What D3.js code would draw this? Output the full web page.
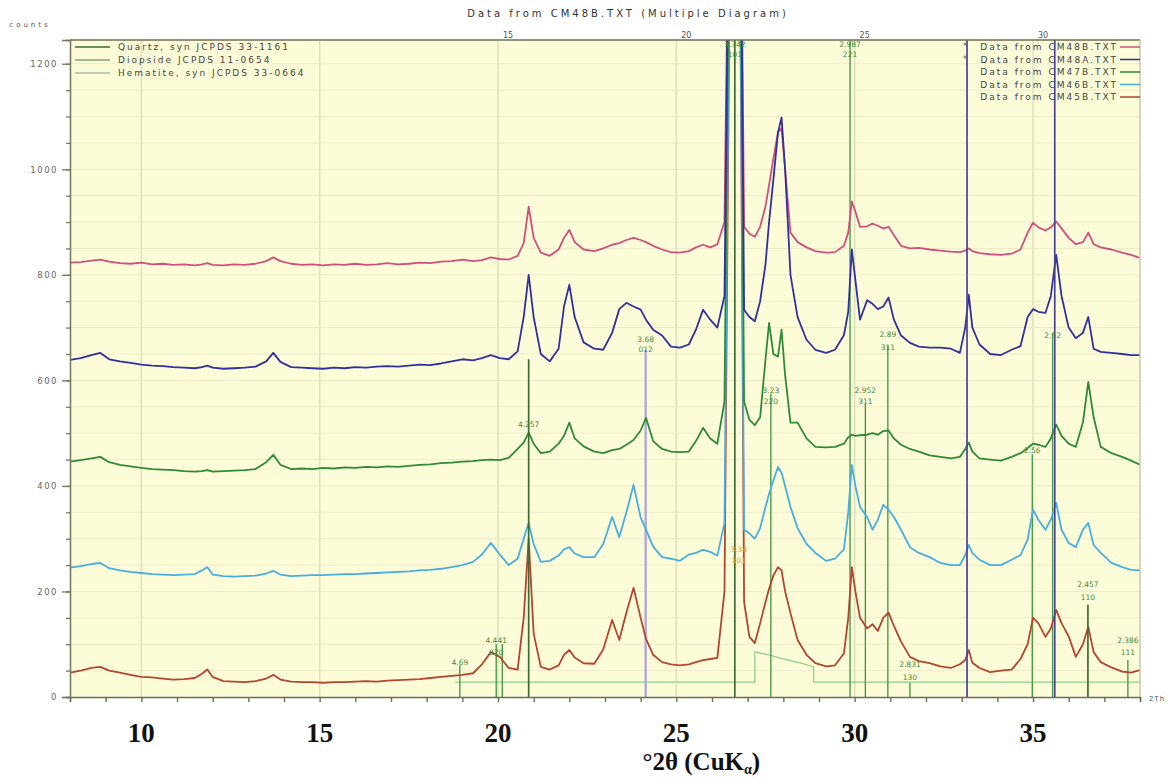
<!DOCTYPE html>
<html>
<head>
<meta charset="utf-8">
<script src="https://cdn.jsdelivr.net/npm/d3@7"></script>
<style>
  body { margin: 0; background: #fff; }
  svg { display: block; }
</style>
</head>
<body>
<svg id="chart" width="1169" height="782"></svg>
<script>
// ---- data (°2θ, counts) ----
const twoTheta = [
  8.0, 8.3, 8.6, 8.85, 9.1, 9.4, 9.7, 10.0, 10.3, 10.6,
  10.9, 11.2, 11.5, 11.7, 11.85, 12.0, 12.3, 12.6, 12.9, 13.2,
  13.5, 13.7, 13.9, 14.2, 14.5, 14.8, 15.1, 15.4, 15.7, 16.0,
  16.3, 16.6, 16.9, 17.2, 17.5, 17.8, 18.1, 18.4, 18.7, 19.0,
  19.3, 19.55, 19.8, 20.05, 20.3, 20.55, 20.72, 20.86, 21.0, 21.2,
  21.45, 21.7, 21.85, 22.0, 22.15, 22.4, 22.7, 22.95, 23.2, 23.4,
  23.6, 23.8, 24.0, 24.15, 24.35, 24.6, 24.85, 25.1, 25.35, 25.55,
  25.75, 25.95, 26.15, 26.35, 26.5, 26.6, 26.68, 26.76, 26.9, 27.05,
  27.2, 27.35, 27.5, 27.6, 27.72, 27.85, 27.95, 28.05, 28.2, 28.4,
  28.65, 28.9, 29.2, 29.45, 29.7, 29.82, 29.92, 30.02, 30.15, 30.35,
  30.5, 30.65, 30.8, 30.95, 31.1, 31.3, 31.55, 31.8, 32.1, 32.4,
  32.7, 32.95, 33.1, 33.2, 33.3, 33.5, 33.8, 34.1, 34.4, 34.65,
  34.85, 35.0, 35.15, 35.35, 35.5, 35.65, 35.8, 36.0, 36.2, 36.4,
  36.55, 36.7, 36.9, 37.2, 37.5, 37.75, 38.0
];

const cm48b = [
  823, 824, 827, 829, 825, 822, 821, 823, 820, 821,
  819, 820, 818, 820, 822, 819, 818, 820, 819, 821,
  826, 833, 826, 821, 819, 820, 818, 820, 819, 821,
  819, 820, 822, 820, 821, 823, 822, 825, 826, 829,
  826, 828, 833, 830, 829, 836, 860, 929, 870, 842,
  836, 848, 870, 885, 862, 848, 845, 850, 857, 860,
  866, 870, 866, 862, 855, 848, 843, 842, 845, 852,
  857, 852, 858, 900, 1700, 2400, 3000, 1900, 891, 878,
  872, 891, 930, 970, 1020, 1070, 1078, 1000, 880, 862,
  852, 845, 842, 843, 855, 880, 939, 920, 891, 892,
  897, 893, 888, 891, 875, 855, 850, 851, 848, 846,
  844, 843, 846, 850, 845, 841, 839, 838, 840, 848,
  880, 899, 890, 884, 890, 901, 888, 870, 858, 862,
  880, 858, 852, 848, 842, 838, 832
];

const cm48a = [
  639, 642, 648, 652, 640, 636, 633, 630, 628, 627,
  625, 624, 623, 625, 628, 624, 622, 623, 624, 626,
  636, 652, 635, 625, 624, 623, 622, 624, 623, 625,
  624, 626, 627, 626, 628, 630, 629, 632, 636, 640,
  638, 642, 648, 642, 640, 655, 720, 800, 720, 650,
  636, 660, 740, 781, 720, 672, 660, 658, 690, 735,
  747, 740, 734, 715, 696, 685, 664, 662, 668, 696,
  734, 715, 700, 760, 1700, 2500, 3000, 1900, 734, 720,
  712, 750, 820, 900, 980, 1070, 1098, 1000, 800, 720,
  677, 658, 652, 658, 686, 730, 848, 790, 715, 752,
  745, 735, 740, 757, 715, 685, 671, 664, 662, 662,
  660, 652, 700, 762, 700, 668, 650, 648, 658, 665,
  720, 735, 730, 728, 760, 838, 760, 700, 680, 690,
  720, 660, 654, 652, 650, 648, 648
];

const cm47b = [
  446, 449, 452, 455, 445, 440, 437, 434, 432, 431,
  430, 428, 427, 428, 430, 427, 428, 429, 430, 432,
  445, 459, 440, 432, 433, 432, 434, 433, 435, 434,
  436, 435, 437, 436, 438, 440, 441, 443, 444, 446,
  447, 449, 450, 449, 453, 470, 482, 501, 480, 462,
  465, 480, 495, 520, 490, 475, 465, 462, 468, 470,
  478, 487, 505, 529, 485, 470, 465, 464, 465, 485,
  510, 490, 480, 560, 1600, 2400, 3000, 1800, 560, 525,
  515, 530, 640, 709, 650, 645, 696, 610, 520, 520,
  490, 474, 473, 474, 480, 492, 497, 495, 496, 497,
  500, 497, 504, 505, 490, 478, 470, 465, 458, 455,
  452, 455, 470, 482, 465, 452, 450, 448, 455, 462,
  472, 480, 478, 474, 490, 516, 495, 480, 474, 520,
  597, 530, 474, 462, 455, 448, 440
];

const cm46b = [
  245, 248, 252, 254, 244, 240, 237, 235, 233, 232,
  231, 232, 233, 240, 246, 232, 229, 228, 229, 230,
  234, 239, 232, 229, 230, 231, 231, 232, 233, 233,
  234, 235, 236, 237, 238, 240, 241, 243, 246, 250,
  256, 270, 292, 270, 250, 262, 300, 330, 290, 256,
  258, 268, 280, 284, 272, 265, 265, 290, 341, 303,
  350, 402, 340, 317, 285, 265, 262, 258, 270, 273,
  279, 275, 268, 330, 1500, 2300, 3000, 1700, 317, 310,
  300, 320, 360, 385, 410, 436, 425, 400, 360, 320,
  290, 273, 258, 262, 280, 350, 440, 400, 360, 341,
  317, 336, 364, 355, 341, 317, 284, 273, 265, 254,
  250, 250, 269, 288, 273, 260, 250, 250, 260, 269,
  298, 355, 336, 317, 336, 368, 317, 292, 284, 317,
  330, 288, 273, 254, 246, 241, 240
];

const cm45b = [
  46, 50, 55, 57, 50, 46, 42, 38, 37, 35,
  33, 34, 36, 44, 52, 38, 30, 29, 28, 30,
  35, 42, 33, 29, 28, 28, 27, 28, 28, 29,
  30, 29, 31, 32, 33, 34, 36, 38, 40, 42,
  45, 62, 85, 76, 55, 52, 150, 300, 120, 57,
  52, 60, 80, 89, 75, 64, 63, 90, 146, 108,
  160, 207, 150, 110, 80, 66, 62, 60, 62, 66,
  70, 72, 74, 200, 1400, 2300, 3000, 1700, 180, 114,
  102, 140, 180, 205, 230, 246, 240, 200, 159, 108,
  80, 64, 58, 60, 83, 150, 246, 200, 150, 130,
  138, 125, 150, 160, 135, 105, 76, 68, 64, 58,
  55, 62, 70, 89, 65, 55, 47, 50, 52, 72,
  100, 150, 140, 114, 130, 165, 140, 115, 76, 100,
  133, 85, 66, 56, 48, 46, 51
];

const seriesNames = ["Data from CM48B.TXT", "Data from CM48A.TXT", "Data from CM47B.TXT",
                     "Data from CM46B.TXT", "Data from CM45B.TXT"];
const seriesColors = ["#d0507c", "#30309e", "#2f8a38", "#48aee0", "#b4462f"];

// reference patterns: [°2θ, stick height in counts]
const quartzSticks = [[20.86, 640], [26.64, 1300], [36.54, 175]];
const diopsideSticks = [[18.93, 60], [19.95, 100], [20.12, 100], [27.65, 575], [29.87, 1300],
                        [30.3, 555], [30.93, 665], [31.55, 27], [34.98, 460], [35.55, 690], [37.66, 70]];
const hematiteSticks = [[24.14, 658], [33.15, 1300], [35.61, 1300]];
const phaseNames = ["Quartz, syn  JCPDS 33-1161", "Diopside  JCPDS 11-0654", "Hematite, syn  JCPDS 33-0664"];

// light green profile line near the baseline
const profileX = [18.8, 27.2, 27.2, 27.6, 28.0, 28.5, 28.85, 28.85, 38.0];
const profileY = [28, 28, 85, 80, 72, 64, 57, 28, 28];

// d-spacing / hkl labels: [°2θ, counts, text]
const stickLabels = [
  [26.64, 1232, "3.342"], [26.64, 1213, "101"],
  [29.87, 1232, "2.987"], [29.87, 1213, "221"],
  [20.86, 512, "4.257"],
  [24.14, 673, "3.68"], [24.14, 654, "012"],
  [27.65, 576, "3.23"], [27.65, 555, "220"],
  [30.3, 576, "2.952"], [30.3, 555, "311"],
  [30.93, 683, "2.89"], [30.93, 658, "311"],
  [35.55, 681, "2.52"], [34.98, 462, "2.56"],
  [36.54, 209, "2.457"], [36.54, 184, "110"],
  [37.66, 102, "2.386"], [37.66, 80, "111"],
  [31.55, 57, "2.831"], [31.55, 32, "130"],
  [19.95, 102, "4.441"], [19.95, 80, "020"],
  [18.93, 61, "4.69"]
];

const yMajor = [0, 200, 400, 600, 800, 1000, 1200];
const xLabels = [10, 15, 20, 25, 30, 35];
const topLabels = ["15", "20", "25", "30"];

// ---- layout ----
const W = 1169, H = 782;
const pLeft = 70, pRight = 1140, pTop = 40, pBottom = 697;

const svg = d3.select("#chart");
const x = d3.scaleLinear().domain([8, 38]).range([pLeft, pRight]);
const y = d3.scaleLinear().domain([0, 1245]).range([pBottom, pTop]);

svg.append("rect").attr("width", W).attr("height", H).attr("fill", "#fff");
svg.append("rect")
  .attr("x", pLeft).attr("y", pTop)
  .attr("width", pRight - pLeft).attr("height", pBottom - pTop)
  .attr("fill", "#fdfcd9");

svg.append("defs").append("clipPath").attr("id", "plotclip")
  .append("rect").attr("x", pLeft).attr("y", pTop)
  .attr("width", pRight - pLeft).attr("height", pBottom - pTop);

// grid
const grid = svg.append("g");
grid.selectAll("line.h").data(d3.range(50, 1245, 50)).join("line")
  .attr("x1", pLeft).attr("x2", pRight)
  .attr("y1", d => y(d)).attr("y2", d => y(d))
  .attr("stroke", "#eeebc9").attr("stroke-width", 1);
grid.selectAll("line.v").data(xLabels).join("line")
  .attr("x1", d => x(d)).attr("x2", d => x(d))
  .attr("y1", pTop).attr("y2", pBottom)
  .attr("stroke", "#e0e2bd").attr("stroke-width", 1.6);

const plot = svg.append("g").attr("clip-path", "url(#plotclip)");

// profile line
plot.append("path")
  .datum(profileX.map((v, i) => [v, profileY[i]]))
  .attr("d", d3.line().x(d => x(d[0])).y(d => y(d[1])))
  .attr("fill", "none").attr("stroke", "#8fd08a").attr("stroke-width", 1.3);

// sticks
function drawSticks(data, color, width) {
  plot.append("g").selectAll("line").data(data).join("line")
    .attr("x1", d => x(d[0])).attr("x2", d => x(d[0]))
    .attr("y1", y(0)).attr("y2", d => y(d[1]))
    .attr("stroke", color).attr("stroke-width", width);
}
drawSticks(hematiteSticks.slice(0, 1), "#b3a6dc", 2.4);
drawSticks(diopsideSticks, "#4a9a48", 1.4);

// patterns
const allSeries = [cm45b, cm46b, cm47b, cm48b, cm48a];
const allColors = [seriesColors[4], seriesColors[3], seriesColors[2], seriesColors[0], seriesColors[1]];
const line = d3.line().x(d => x(d[0])).y(d => y(d[1]));
allSeries.forEach((s, k) => {
  if (s.length !== twoTheta.length) console.warn("length mismatch", k, s.length);
  plot.append("path")
    .datum(twoTheta.map((t, i) => [t, s[i]]))
    .attr("d", line)
    .attr("fill", "none")
    .attr("stroke", allColors[k])
    .attr("stroke-width", 1.8)
    .attr("stroke-linejoin", "round");
});

drawSticks(quartzSticks, "#3d6b35", 1.7);
drawSticks(hematiteSticks.slice(1), "#4d3f9c", 1.7);

// stick labels
plot.append("g").selectAll("text").data(stickLabels).join("text")
  .attr("x", d => x(d[0])).attr("y", d => y(d[1]))
  .attr("text-anchor", "middle")
  .attr("font-family", "DejaVu Sans, sans-serif")
  .attr("font-size", 7.5)
  .attr("fill", "#3f8a3c")
  .text(d => d[2]);
plot.append("text").attr("x", x(26.75)).attr("y", y(275)).attr("text-anchor", "middle")
  .attr("font-family", "DejaVu Sans, sans-serif").attr("font-size", 7.5).attr("fill", "#e0a040").text("3.34");
plot.append("text").attr("x", x(26.75)).attr("y", y(254)).attr("text-anchor", "middle")
  .attr("font-family", "DejaVu Sans, sans-serif").attr("font-size", 7.5).attr("fill", "#e0a040").text("101");

// frame
svg.append("line").attr("x1", pLeft).attr("x2", pRight).attr("y1", pTop).attr("y2", pTop)
  .attr("stroke", "#6e6e50").attr("stroke-width", 1.6);
svg.append("line").attr("x1", pRight).attr("x2", pRight).attr("y1", pTop).attr("y2", pBottom)
  .attr("stroke", "#c9c9b4").attr("stroke-width", 1.5);

// axes
const yMinor = svg.append("g").attr("transform", `translate(${pLeft},0)`)
  .call(d3.axisLeft(y).tickValues(d3.range(0, 1245, 50)).tickSize(4).tickFormat(""));
const yAxis = svg.append("g").attr("transform", `translate(${pLeft},0)`)
  .call(d3.axisLeft(y).tickValues(yMajor).tickSize(8).tickPadding(4).tickFormat(d3.format("d")));
[yMinor, yAxis].forEach(g => {
  g.selectAll("path,line").attr("stroke", "#77775c").attr("stroke-width", 1.3);
});
yAxis.selectAll("text")
  .attr("font-family", "DejaVu Sans, sans-serif").attr("font-size", 8.5)
  .attr("letter-spacing", 1.5).attr("fill", "#666");

const xAxis = svg.append("g").attr("transform", `translate(0,${pBottom})`)
  .call(d3.axisBottom(x).tickValues(d3.range(8, 38.01, 1)).tickSize(5).tickFormat(""));
xAxis.selectAll("path,line").attr("stroke", "#6e6e55").attr("stroke-width", 1.4);

svg.append("g").selectAll("text").data(xLabels).join("text")
  .attr("x", d => x(d)).attr("y", 742)
  .attr("text-anchor", "middle")
  .attr("font-family", "Liberation Serif, Times New Roman, serif")
  .attr("font-weight", "bold").attr("font-size", 27).attr("fill", "#111")
  .text(d => d);

const xt = svg.append("text").attr("x", x(25.7)).attr("y", 770)
  .attr("text-anchor", "middle")
  .attr("font-family", "Liberation Serif, Times New Roman, serif")
  .attr("font-weight", "bold").attr("font-size", 25).attr("fill", "#111");
xt.append("tspan").text("°2θ (CuK");
xt.append("tspan").attr("font-size", 14).attr("dy", 4).text("α");
xt.append("tspan").attr("dy", -4).text(")");

// top texts
svg.append("text").attr("x", 628).attr("y", 17).attr("text-anchor", "middle")
  .attr("font-family", "DejaVu Sans, sans-serif").attr("font-size", 10)
  .attr("letter-spacing", 3).attr("fill", "#333")
  .text("Data from CM48B.TXT (Multiple Diagram)");
svg.append("text").attr("x", 30).attr("y", 27).attr("text-anchor", "middle")
  .attr("font-family", "DejaVu Sans, sans-serif").attr("font-size", 7)
  .attr("letter-spacing", 3).attr("fill", "#555").text("counts");
svg.append("g").selectAll("text").data(topLabels).join("text")
  .attr("x", (d, i) => x(xLabels[i + 2]) + 10).attr("y", 38)
  .attr("text-anchor", "middle")
  .attr("font-family", "DejaVu Sans, sans-serif").attr("font-size", 8)
  .attr("fill", "#555").text(d => d);
svg.append("text").attr("x", 1157).attr("y", 701).attr("text-anchor", "middle")
  .attr("font-family", "DejaVu Sans, sans-serif").attr("font-size", 7)
  .attr("letter-spacing", 1).attr("fill", "#555").text("2Th");

// phase legend (top left)
const phaseColors = ["#3d6b35", "#7fa86e", "#b3b8a0"];
const pl = svg.append("g");
phaseNames.forEach((n, i) => {
  const yy = 50 + i * 13;
  pl.append("line").attr("x1", 75).attr("x2", 110).attr("y1", yy - 3).attr("y2", yy - 3)
    .attr("stroke", phaseColors[i]).attr("stroke-width", 1.5);
  pl.append("text").attr("x", 118).attr("y", yy)
    .attr("font-family", "DejaVu Sans, sans-serif").attr("font-size", 9)
    .attr("letter-spacing", 2).attr("fill", "#444").text(n);
});

// series legend (top right)
const sl = svg.append("g");
seriesNames.forEach((n, i) => {
  const yy = 50 + i * 12.5;
  sl.append("text").attr("x", 1118).attr("y", yy).attr("text-anchor", "end")
    .attr("font-family", "DejaVu Sans, sans-serif").attr("font-size", 9)
    .attr("letter-spacing", 2).attr("fill", "#444").text(n);
  if (i < 2) sl.append("text").attr("x", 963).attr("y", yy - 1)
    .attr("font-family", "DejaVu Sans, sans-serif").attr("font-size", 8)
    .attr("fill", "#555").text("*");
  sl.append("line").attr("x1", 1120).attr("x2", 1140).attr("y1", yy - 3).attr("y2", yy - 3)
    .attr("stroke", seriesColors[i]).attr("stroke-width", 1.5);
});
</script>
</body>
</html>
